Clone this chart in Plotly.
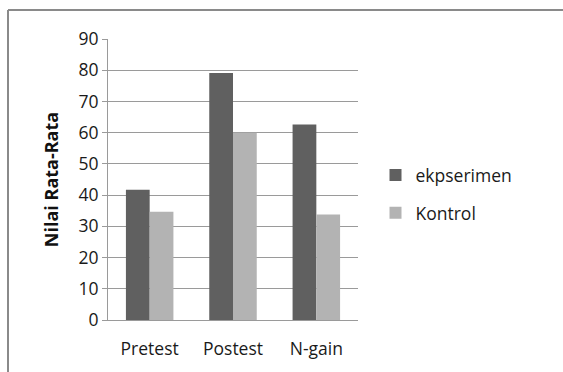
import plotly.graph_objects as go

categories = ["Pretest", "Postest", "N-gain"]
ekpserimen = [41.7, 79.1, 62.6]
kontrol = [34.7, 60.0, 33.8]
y_ticks = [0, 10, 20, 30, 40, 50, 60, 70, 80, 90]

FONT = "Open Sans"
GRID = "#9a9a9a"
TEXT = "#1a1a1a"

fig = go.Figure()
fig.add_trace(go.Bar(x=categories, y=ekpserimen, name="ekpserimen",
                     marker=dict(color="#606060", line=dict(width=0)),
                     legendgroup="a"))
fig.add_trace(go.Bar(x=categories, y=kontrol, name="Kontrol",
                     marker=dict(color="#b3b3b3", line=dict(width=0)),
                     legendgroup="b"))

fig.update_layout(
    width=563, height=372,
    margin=dict(l=108, r=205, t=39, b=52),
    paper_bgcolor="white", plot_bgcolor="white",
    barmode="group", bargap=0.43, bargroupgap=0,
    font=dict(family=FONT, size=17.5, color=TEXT),
    showlegend=True,
    legend=dict(x=1.07, y=0.448, xanchor="left", yanchor="middle",
                font=dict(family=FONT, size=17.5, color=TEXT),
                tracegroupgap=12, itemwidth=30,
                bgcolor="rgba(0,0,0,0)"),
    xaxis=dict(showgrid=False, showline=True, linecolor=GRID, linewidth=1,
               ticks="", ticklabelstandoff=13,
               tickfont=dict(family=FONT, size=17.5, color=TEXT)),
    yaxis=dict(range=[0, 90], tickvals=y_ticks, showgrid=True,
               gridcolor=GRID, gridwidth=1, zeroline=False,
               showline=True, linecolor=GRID, linewidth=1,
               ticks="outside", ticklen=5, tickcolor=GRID,
               tickfont=dict(family=FONT, size=17.5, color=TEXT),
               title=dict(text="<b>Nilai Rata-Rata</b>", standoff=15,
                          font=dict(family=FONT, size=18, color="#111111"))),
)

# outer chart frame (top and left edges visible)
fig.add_shape(type="line", xref="paper", yref="paper",
              x0=-0.4, x1=1.9, y0=1.103, y1=1.103,
              line=dict(color="#8a8a8a", width=2))
fig.add_shape(type="line", xref="paper", yref="paper",
              x0=-0.4, x1=-0.4, y0=1.103, y1=-0.3,
              line=dict(color="#8a8a8a", width=2))

fig.write_html("out.html")
